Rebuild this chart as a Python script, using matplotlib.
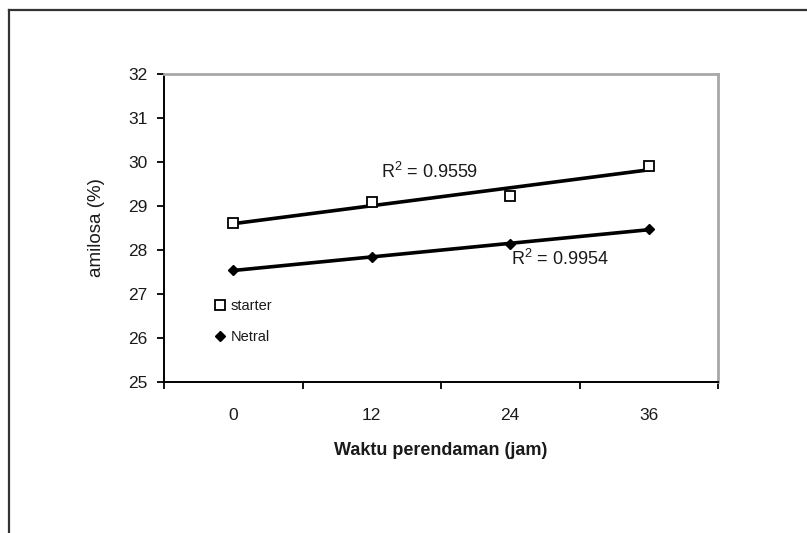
import numpy as np
import matplotlib
matplotlib.use("Agg")
import matplotlib.pyplot as plt
from matplotlib.lines import Line2D

# data
hours = ["0", "12", "24", "36"]
starter = [28.61, 29.08, 29.23, 29.92]
netral = [27.55, 27.83, 28.13, 28.48]
r2_starter = "R$^2$ = 0.9559"
r2_netral = "R$^2$ = 0.9954"

plt.rcParams["font.family"] = ["Liberation Sans", "DejaVu Sans"]
plt.rcParams["mathtext.fontset"] = "custom"
plt.rcParams["mathtext.rm"] = "Liberation Sans"
plt.rcParams["mathtext.default"] = "regular"
text_color = "#1a1a1a"

fig = plt.figure(figsize=(8.07, 5.33), dpi=100)
ax = fig.add_axes([164 / 807, 1 - 382 / 533, 554 / 807, 308 / 533])

x = np.arange(len(hours))

# linear trend lines
for vals in (starter, netral):
    k, b = np.polyfit(x, vals, 1)
    ax.plot(x, k * x + b, color="black", lw=2.6, zorder=2)

ax.plot(x, starter, ls="none", marker="s", ms=6.5, mfc="white", mec="black",
        mew=1.3, label="starter", zorder=3)
ax.plot(x, netral, ls="none", marker="D", ms=5.5, mfc="black", mec="black",
        label="Netral", zorder=3)

ax.text(1.42, 29.77, r2_starter, ha="center", va="center", fontsize=13,
        color=text_color)
ax.text(2.36, 27.80, r2_netral, ha="center", va="center", fontsize=13,
        color=text_color)

ax.set_xlim(-0.5, 3.5)
ax.set_ylim(25, 32)
ax.set_yticks(range(25, 33))

# category axis: ticks at the boundaries, labels in the middle
ax.set_xticks(np.arange(-0.5, 4, 1))
ax.set_xticklabels([])
ax.set_xticks(x, minor=True)
ax.set_xticklabels(hours, minor=True)
ax.tick_params(axis="x", which="major", direction="out", length=5, width=1.3,
               color="black")
ax.tick_params(axis="x", which="minor", length=0, pad=19, labelsize=12.5,
               labelcolor=text_color)
ax.tick_params(axis="y", direction="out", length=5, width=1.3, pad=7,
               labelsize=12.5, labelcolor=text_color)

for side in ("left", "bottom"):
    ax.spines[side].set_color("black")
    ax.spines[side].set_linewidth(1.4)
for side in ("top", "right"):
    ax.spines[side].set_color("#a8a8a8")
    ax.spines[side].set_linewidth(2)

ax.set_ylabel("amilosa (%)", fontsize=13.5, color=text_color)
ax.yaxis.set_label_coords(-0.1065, 0.503)
ax.set_xlabel("Waktu perendaman (jam)", fontsize=13, fontweight="bold",
              color=text_color)
ax.xaxis.set_label_coords(0.5, -0.224)
ax.xaxis.label.set_va("center")

ax.legend(loc="upper left", bbox_to_anchor=(0.0894, 0.27), frameon=False,
          fontsize=10.5, borderpad=0, borderaxespad=0, handlelength=0.9,
          handletextpad=0.25, labelspacing=1.15, labelcolor=text_color)

# outer frame of the picture (runs off the right and bottom edges)
fig.add_artist(Line2D([9 / 807, 9 / 807], [0, 1 - 10 / 533],
                      transform=fig.transFigure, color="#333333", lw=1.6))
fig.add_artist(Line2D([9 / 807, 1], [1 - 10 / 533, 1 - 10 / 533],
                      transform=fig.transFigure, color="#333333", lw=1.6))

fig.savefig("out.png", dpi=100)
